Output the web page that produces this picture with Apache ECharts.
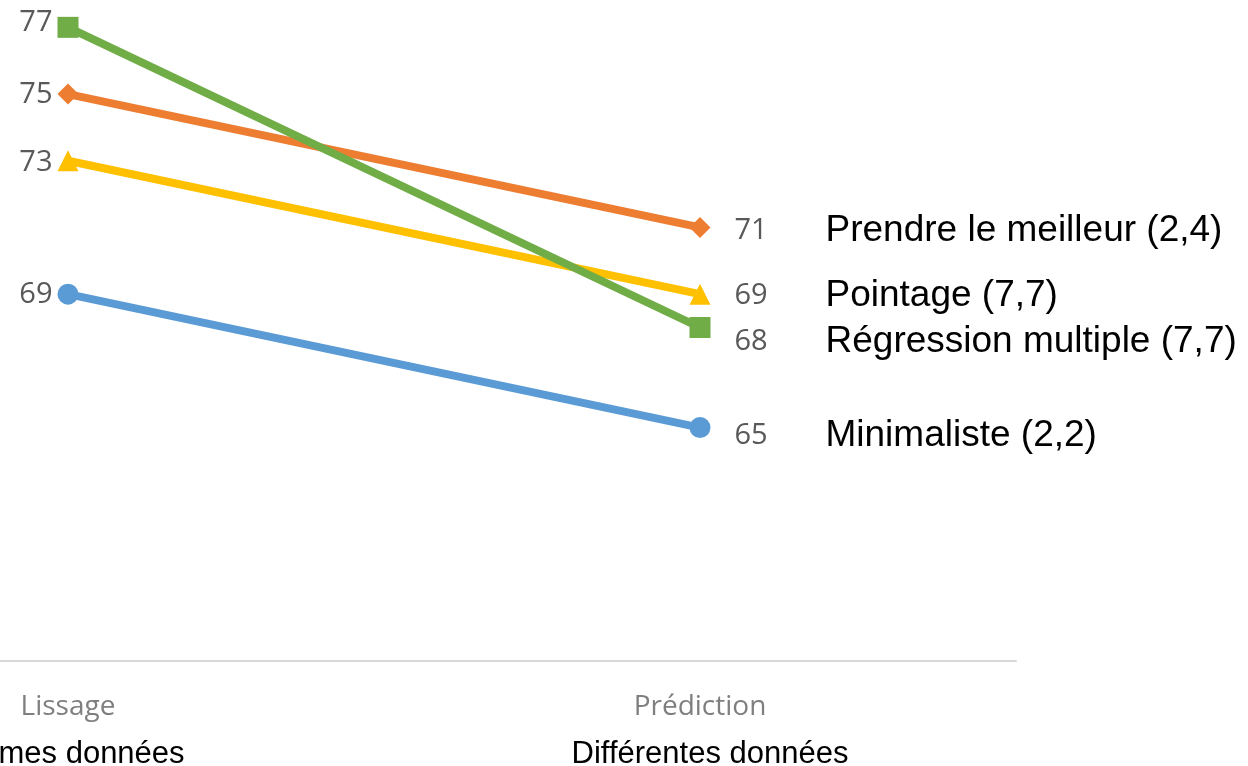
<!DOCTYPE html>
<html>
<head>
<meta charset="utf-8">
<script src="https://cdn.jsdelivr.net/npm/echarts@6/dist/echarts.min.js"></script>
<style>
  html, body { margin: 0; padding: 0; background: #ffffff; }
  #chart { width: 1248px; height: 766px; }
</style>
</head>
<body>
<div id="chart"></div>
<script>
// Categories along the x axis and their second-line captions
const categories = ['Lissage', 'Prédiction'];
const categoryCaptions = ['Mêmes données', 'Différentes données'];

// Series names (shown at the right end of each line)
const seriesNames = [
  'Minimaliste (2,2)',
  'Prendre le meilleur (2,4)',
  'Pointage (7,7)',
  'Régression multiple (7,7)'
];

// Scores per category
const minimaliste = [69, 65];
const prendreLeMeilleur = [75, 71];
const pointage = [73, 69];
const regressionMultiple = [77, 68];

const seriesValues = [minimaliste, prendreLeMeilleur, pointage, regressionMultiple];
const seriesColors = ['#5B9BD5', '#ED7D31', '#FFC000', '#70AD47'];
const seriesSymbols = ['circle', 'diamond', 'triangle', 'rect'];

// Small vertical nudges for the end labels so they don't collide
const startOffsets = [[0, 1], [0, 1], [0, 2], [0, -5]];
const endOffsets = [[0, 8], [0, 3], [0, 2], [0, 14]];

const valueFont = '"Open Sans", sans-serif';
const nameFont = '"Liberation Sans", Arial, sans-serif';

const series = seriesValues.map((vals, i) => ({
  name: seriesNames[i],
  type: 'line',
  clip: false,
  symbol: seriesSymbols[i],
  symbolSize: 21,
  z: 2 + i,
  lineStyle: { color: seriesColors[i], width: 8 },
  itemStyle: { color: seriesColors[i] },
  emphasis: { disabled: true },
  data: vals.map((v, j) => ({
    value: v,
    label: j === 0 ? {
      show: true,
      position: 'left',
      distance: 5,
      offset: startOffsets[i],
      formatter: '{v|{c}}',
      rich: { v: { fontFamily: valueFont, fontSize: 29, color: '#595959' } }
    } : {
      show: true,
      position: 'right',
      distance: 24,
      offset: endOffsets[i],
      formatter: '{v|{c}}{n|' + seriesNames[i] + '}',
      rich: {
        v: { fontFamily: valueFont, fontSize: 29, color: '#595959', width: 91, align: 'left' },
        n: { fontFamily: nameFont, fontSize: 37, color: '#000000' }
      }
    }
  }))
}));

const chart = echarts.init(document.getElementById('chart'), null, { renderer: 'canvas' });
chart.setOption({
  animation: false,
  backgroundColor: '#ffffff',
  grid: {
    left: -248, right: 232, top: -6, bottom: 105,
    containLabel: false,
    outerBoundsMode: 'none'
  },
  xAxis: {
    type: 'category',
    data: categories,
    boundaryGap: true,
    axisLine: { lineStyle: { color: '#d9d9d9', width: 2 } },
    axisTick: { show: false },
    axisLabel: {
      margin: 21,
      interval: 0,
      formatter: (val, idx) => '{c|' + val + '}\n{d' + idx + '|' + categoryCaptions[idx] + '}',
      rich: {
        c: { fontFamily: valueFont, fontSize: 28, color: '#7f7f7f', lineHeight: 50 },
        d0: { fontFamily: nameFont, fontSize: 31, color: '#000000', lineHeight: 44, padding: [0, 0, 0, 4] },
        d1: { fontFamily: nameFont, fontSize: 31, color: '#000000', lineHeight: 44, padding: [0, 0, 0, 20] }
      }
    },
    splitLine: { show: false }
  },
  yAxis: {
    type: 'value',
    min: 58,
    max: 78,
    show: false,
    splitLine: { show: false }
  },
  series: series
});
</script>
</body>
</html>
